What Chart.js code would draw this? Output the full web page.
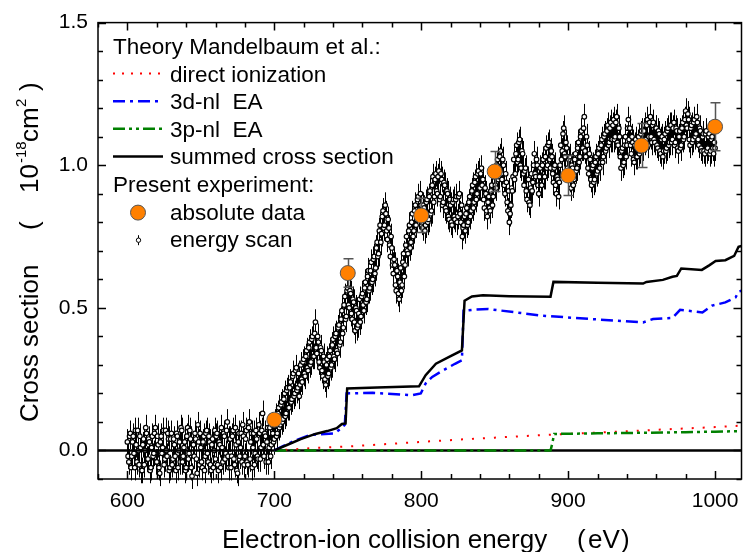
<!DOCTYPE html>
<html>
<head>
<meta charset="utf-8">
<script src="https://cdn.jsdelivr.net/npm/chart.js@4/dist/chart.umd.min.js"></script>
<style>
  html, body { margin: 0; padding: 0; background: #fff; }
  #chart { display: block; }
</style>
</head>
<body>
<canvas id="chart" width="750" height="552"></canvas>
<script>
// energy scan (eV) and its relative cross section (1e-18 cm^2), whole-eV steps
const scanEnergy = [
    600, 601, 602, 603, 604, 605, 606, 607, 608, 609,
    610, 611, 612, 613, 614, 615, 616, 617, 618, 619,
    620, 621, 622, 623, 624, 625, 626, 627, 628, 629,
    630, 631, 632, 633, 634, 635, 636, 637, 638, 639,
    640, 641, 642, 643, 644, 645, 646, 647, 648, 649,
    650, 651, 652, 653, 654, 655, 656, 657, 658, 659,
    660, 661, 662, 663, 664, 665, 666, 667, 668, 669,
    670, 671, 672, 673, 674, 675, 676, 677, 678, 679,
    680, 681, 682, 683, 684, 685, 686, 687, 688, 689,
    690, 691, 692, 693, 694, 695, 696, 697, 698, 699,
    700, 701, 702, 703, 704, 705, 706, 707, 708, 709,
    710, 711, 712, 713, 714, 715, 716, 717, 718, 719,
    720, 721, 722, 723, 724, 725, 726, 727, 728, 729,
    730, 731, 732, 733, 734, 735, 736, 737, 738, 739,
    740, 741, 742, 743, 744, 745, 746, 747, 748, 749,
    750, 751, 752, 753, 754, 755, 756, 757, 758, 759,
    760, 761, 762, 763, 764, 765, 766, 767, 768, 769,
    770, 771, 772, 773, 774, 775, 776, 777, 778, 779,
    780, 781, 782, 783, 784, 785, 786, 787, 788, 789,
    790, 791, 792, 793, 794, 795, 796, 797, 798, 799,
    800, 801, 802, 803, 804, 805, 806, 807, 808, 809,
    810, 811, 812, 813, 814, 815, 816, 817, 818, 819,
    820, 821, 822, 823, 824, 825, 826, 827, 828, 829,
    830, 831, 832, 833, 834, 835, 836, 837, 838, 839,
    840, 841, 842, 843, 844, 845, 846, 847, 848, 849,
    850, 851, 852, 853, 854, 855, 856, 857, 858, 859,
    860, 861, 862, 863, 864, 865, 866, 867, 868, 869,
    870, 871, 872, 873, 874, 875, 876, 877, 878, 879,
    880, 881, 882, 883, 884, 885, 886, 887, 888, 889,
    890, 891, 892, 893, 894, 895, 896, 897, 898, 899,
    900, 901, 902, 903, 904, 905, 906, 907, 908, 909,
    910, 911, 912, 913, 914, 915, 916, 917, 918, 919,
    920, 921, 922, 923, 924, 925, 926, 927, 928, 929,
    930, 931, 932, 933, 934, 935, 936, 937, 938, 939,
    940, 941, 942, 943, 944, 945, 946, 947, 948, 949,
    950, 951, 952, 953, 954, 955, 956, 957, 958, 959,
    960, 961, 962, 963, 964, 965, 966, 967, 968, 969,
    970, 971, 972, 973, 974, 975, 976, 977, 978, 979,
    980, 981, 982, 983, 984, 985, 986, 987, 988, 989,
    990, 991, 992, 993, 994, 995, 996, 997, 998, 999,
    1000
];
const scanValues = [
    0.03, -0.04, 0.06, -0.02, 0.05, -0.06, 0.02, 0.07, -0.05, 0.01,
    -0.07, 0.04, 0.00, 0.06, -0.03, 0.03, -0.06, 0.05, -0.01, 0.08,
    -0.04, 0.02, -0.08, 0.05, 0.01, -0.05, 0.07, -0.02, 0.04, -0.06,
    0.06, -0.03, 0.02, -0.07, 0.05, 0.00, -0.04, 0.07, -0.02, 0.03,
    -0.06, 0.08, -0.01, 0.04, -0.09, 0.02, 0.06, -0.03, 0.09, -0.05,
    0.01, -0.06, 0.05, -0.02, 0.07, -0.04, 0.03, -0.07, 0.04, 0.00,
    -0.03, 0.06, -0.07, 0.02, 0.08, -0.04, 0.05, -0.01, 0.10, -0.06,
    0.04, -0.02, 0.07, -0.05, 0.02, -0.08, 0.06, 0.01, -0.04, 0.05,
    -0.02, 0.07, -0.05, 0.10, 0.03, -0.06, 0.06, -0.01, 0.04, -0.03,
    0.06, 0.01, 0.13, -0.02, 0.05, 0.03, -0.04, 0.08, 0.02, 0.06,
    0.04, 0.12, 0.06, 0.15, 0.09, 0.17, 0.11, 0.20, 0.13, 0.22,
    0.15, 0.24, 0.18, 0.27, 0.20, 0.29, 0.22, 0.19, 0.30, 0.24,
    0.32, 0.26, 0.35, 0.28, 0.38, 0.31, 0.40, 0.33, 0.45, 0.34,
    0.38, 0.29, 0.35, 0.26, 0.31, 0.23, 0.32, 0.27, 0.35, 0.30,
    0.39, 0.32, 0.41, 0.34, 0.44, 0.38, 0.49, 0.43, 0.54, 0.47,
    0.57, 0.50, 0.55, 0.46, 0.52, 0.42, 0.49, 0.44, 0.53, 0.47,
    0.55, 0.49, 0.59, 0.53, 0.63, 0.57, 0.66, 0.60, 0.68, 0.64,
    0.73, 0.69, 0.79, 0.76, 0.84, 0.79, 0.83, 0.74, 0.78, 0.68,
    0.71, 0.62, 0.65, 0.56, 0.61, 0.53, 0.64, 0.58, 0.69, 0.65,
    0.75, 0.69, 0.79, 0.73, 0.83, 0.77, 0.86, 0.81, 0.89, 0.84,
    0.86, 0.78, 0.85, 0.79, 0.88, 0.81, 0.91, 0.84, 0.96, 0.89,
    0.97, 0.90, 0.98, 0.89, 0.95, 0.87, 0.93, 0.84, 0.90, 0.81,
    0.86, 0.79, 0.88, 0.81, 0.89, 0.82, 0.90, 0.80, 0.75, 0.79,
    0.77, 0.85, 0.80, 0.89, 0.84, 0.93, 0.87, 0.96, 0.90, 0.98,
    0.92, 0.99, 0.95, 0.85, 0.90, 0.82, 0.89, 0.84, 0.93, 0.89,
    0.98, 0.92, 1.02, 0.96, 1.05, 0.95, 1.00, 0.90, 0.94, 0.84,
    0.80, 0.86, 0.91, 1.02, 0.97, 1.07, 1.02, 1.09, 0.99, 1.04,
    0.93, 0.99, 0.88, 0.95, 0.86, 0.97, 0.94, 1.04, 0.96, 1.00,
    0.90, 0.99, 0.93, 1.02, 0.96, 1.06, 1.00, 1.08, 0.99, 1.03,
    0.94, 1.00, 0.90, 0.95, 0.94, 1.07, 1.05, 1.13, 1.03, 1.06,
    0.97, 1.03, 0.92, 0.99, 0.95, 1.04, 0.99, 1.08, 1.03, 1.12,
    1.06, 1.17, 1.03, 1.07, 0.97, 1.02, 0.93, 1.00, 0.95, 1.03,
    0.98, 1.06, 1.01, 1.09, 1.03, 1.11, 1.06, 1.14, 1.08, 1.15,
    1.09, 1.16, 1.10, 1.17, 1.07, 1.10, 0.99, 1.06, 1.01, 1.10,
    1.07, 1.16, 1.13, 1.04, 1.08, 1.01, 1.09, 1.03, 1.10, 1.05,
    1.12, 1.06, 1.14, 1.09, 1.16, 1.10, 1.17, 1.08, 1.15, 1.08,
    1.13, 1.06, 1.11, 1.04, 1.10, 1.05, 1.11, 1.06, 1.13, 1.08,
    1.14, 1.09, 1.15, 1.08, 1.12, 1.05, 1.12, 1.07, 1.15, 1.10,
    1.19, 1.13, 1.16, 1.07, 1.14, 1.09, 1.16, 1.11, 1.15, 1.07,
    1.12, 1.05, 1.11, 1.04, 1.12, 1.06, 1.11, 1.05, 1.10, 1.04,
    1.06
];

// the same scan, points lying between the whole-eV steps
const scanEnergyHalf = [
    600.5, 601.5, 602.5, 603.5, 604.5, 605.5, 606.5, 607.5, 608.5, 609.5,
    610.5, 611.5, 612.5, 613.5, 614.5, 615.5, 616.5, 617.5, 618.5, 619.5,
    620.5, 621.5, 622.5, 623.5, 624.5, 625.5, 626.5, 627.5, 628.5, 629.5,
    630.5, 631.5, 632.5, 633.5, 634.5, 635.5, 636.5, 637.5, 638.5, 639.5,
    640.5, 641.5, 642.5, 643.5, 644.5, 645.5, 646.5, 647.5, 648.5, 649.5,
    650.5, 651.5, 652.5, 653.5, 654.5, 655.5, 656.5, 657.5, 658.5, 659.5,
    660.5, 661.5, 662.5, 663.5, 664.5, 665.5, 666.5, 667.5, 668.5, 669.5,
    670.5, 671.5, 672.5, 673.5, 674.5, 675.5, 676.5, 677.5, 678.5, 679.5,
    680.5, 681.5, 682.5, 683.5, 684.5, 685.5, 686.5, 687.5, 688.5, 689.5,
    690.5, 691.5, 692.5, 693.5, 694.5, 695.5, 696.5, 697.5, 698.5, 699.5,
    700.5, 701.5, 702.5, 703.5, 704.5, 705.5, 706.5, 707.5, 708.5, 709.5,
    710.5, 711.5, 712.5, 713.5, 714.5, 715.5, 716.5, 717.5, 718.5, 719.5,
    720.5, 721.5, 722.5, 723.5, 724.5, 725.5, 726.5, 727.5, 728.5, 729.5,
    730.5, 731.5, 732.5, 733.5, 734.5, 735.5, 736.5, 737.5, 738.5, 739.5,
    740.5, 741.5, 742.5, 743.5, 744.5, 745.5, 746.5, 747.5, 748.5, 749.5,
    750.5, 751.5, 752.5, 753.5, 754.5, 755.5, 756.5, 757.5, 758.5, 759.5,
    760.5, 761.5, 762.5, 763.5, 764.5, 765.5, 766.5, 767.5, 768.5, 769.5,
    770.5, 771.5, 772.5, 773.5, 774.5, 775.5, 776.5, 777.5, 778.5, 779.5,
    780.5, 781.5, 782.5, 783.5, 784.5, 785.5, 786.5, 787.5, 788.5, 789.5,
    790.5, 791.5, 792.5, 793.5, 794.5, 795.5, 796.5, 797.5, 798.5, 799.5,
    800.5, 801.5, 802.5, 803.5, 804.5, 805.5, 806.5, 807.5, 808.5, 809.5,
    810.5, 811.5, 812.5, 813.5, 814.5, 815.5, 816.5, 817.5, 818.5, 819.5,
    820.5, 821.5, 822.5, 823.5, 824.5, 825.5, 826.5, 827.5, 828.5, 829.5,
    830.5, 831.5, 832.5, 833.5, 834.5, 835.5, 836.5, 837.5, 838.5, 839.5,
    840.5, 841.5, 842.5, 843.5, 844.5, 845.5, 846.5, 847.5, 848.5, 849.5,
    850.5, 851.5, 852.5, 853.5, 854.5, 855.5, 856.5, 857.5, 858.5, 859.5,
    860.5, 861.5, 862.5, 863.5, 864.5, 865.5, 866.5, 867.5, 868.5, 869.5,
    870.5, 871.5, 872.5, 873.5, 874.5, 875.5, 876.5, 877.5, 878.5, 879.5,
    880.5, 881.5, 882.5, 883.5, 884.5, 885.5, 886.5, 887.5, 888.5, 889.5,
    890.5, 891.5, 892.5, 893.5, 894.5, 895.5, 896.5, 897.5, 898.5, 899.5,
    900.5, 901.5, 902.5, 903.5, 904.5, 905.5, 906.5, 907.5, 908.5, 909.5,
    910.5, 911.5, 912.5, 913.5, 914.5, 915.5, 916.5, 917.5, 918.5, 919.5,
    920.5, 921.5, 922.5, 923.5, 924.5, 925.5, 926.5, 927.5, 928.5, 929.5,
    930.5, 931.5, 932.5, 933.5, 934.5, 935.5, 936.5, 937.5, 938.5, 939.5,
    940.5, 941.5, 942.5, 943.5, 944.5, 945.5, 946.5, 947.5, 948.5, 949.5,
    950.5, 951.5, 952.5, 953.5, 954.5, 955.5, 956.5, 957.5, 958.5, 959.5,
    960.5, 961.5, 962.5, 963.5, 964.5, 965.5, 966.5, 967.5, 968.5, 969.5,
    970.5, 971.5, 972.5, 973.5, 974.5, 975.5, 976.5, 977.5, 978.5, 979.5,
    980.5, 981.5, 982.5, 983.5, 984.5, 985.5, 986.5, 987.5, 988.5, 989.5,
    990.5, 991.5, 992.5, 993.5, 994.5, 995.5, 996.5, 997.5, 998.5, 999.5
];
const scanValuesHalf = [
    -0.02, 0.05, -0.06, 0.03, -0.01, 0.07, -0.04, 0.00, 0.05, -0.07,
    0.02, -0.05, 0.08, -0.03, 0.04, -0.07, 0.01, -0.02, 0.06, -0.04,
    0.05, -0.06, 0.03, -0.01, 0.07, -0.03, 0.00, 0.06, -0.07, 0.04,
    -0.05, 0.04, -0.02, 0.06, -0.06, 0.03, 0.08, -0.04, 0.01, -0.07,
    0.05, -0.03, 0.07, -0.06, 0.02, -0.02, 0.04, -0.08, 0.03, 0.06,
    -0.04, 0.03, -0.07, 0.06, -0.01, 0.05, -0.05, 0.02, -0.06, 0.07,
    0.05, -0.05, 0.03, -0.06, 0.01, 0.06, -0.03, 0.07, -0.02, 0.04,
    -0.06, 0.05, -0.03, 0.08, -0.07, 0.03, -0.02, 0.06, 0.09, -0.05,
    0.04, -0.04, 0.08, -0.03, 0.06, 0.01, -0.05, 0.07, -0.02, 0.09,
    -0.03, 0.07, 0.02, 0.06, -0.04, 0.08, 0.01, -0.02, 0.09, 0.03,
    0.10, 0.05, 0.13, 0.08, 0.16, 0.10, 0.18, 0.12, 0.21, 0.15,
    0.22, 0.17, 0.26, 0.19, 0.28, 0.21, 0.27, 0.23, 0.25, 0.31,
    0.27, 0.33, 0.29, 0.36, 0.30, 0.39, 0.33, 0.41, 0.36, 0.40,
    0.31, 0.36, 0.28, 0.33, 0.25, 0.30, 0.26, 0.33, 0.29, 0.37,
    0.33, 0.40, 0.35, 0.43, 0.37, 0.46, 0.41, 0.51, 0.46, 0.56,
    0.51, 0.56, 0.48, 0.53, 0.45, 0.50, 0.43, 0.48, 0.45, 0.54,
    0.51, 0.57, 0.52, 0.61, 0.56, 0.63, 0.59, 0.67, 0.62, 0.71,
    0.68, 0.77, 0.73, 0.82, 0.78, 0.86, 0.77, 0.81, 0.72, 0.75,
    0.65, 0.67, 0.58, 0.63, 0.55, 0.59, 0.56, 0.66, 0.61, 0.72,
    0.70, 0.77, 0.71, 0.80, 0.75, 0.84, 0.79, 0.88, 0.82, 0.90,
    0.80, 0.86, 0.77, 0.87, 0.80, 0.89, 0.83, 0.93, 0.87, 0.95,
    0.91, 0.96, 0.88, 0.97, 0.86, 0.94, 0.85, 0.91, 0.82, 0.88,
    0.80, 0.87, 0.82, 0.88, 0.80, 0.89, 0.83, 0.86, 0.78, 0.82,
    0.83, 0.79, 0.87, 0.82, 0.91, 0.85, 0.94, 0.88, 0.97, 0.92,
    0.97, 0.93, 0.88, 0.92, 0.84, 0.87, 0.85, 0.91, 0.86, 0.96,
    0.93, 1.00, 0.95, 1.03, 0.97, 1.02, 0.93, 0.97, 0.87, 0.91,
    0.83, 0.92, 0.96, 0.95, 1.04, 1.01, 1.08, 1.00, 1.05, 0.97,
    0.98, 0.91, 0.95, 0.87, 0.92, 0.91, 1.00, 0.97, 1.02, 0.93,
    0.96, 0.93, 1.00, 0.96, 1.03, 0.99, 1.07, 1.02, 1.05, 0.97,
    0.99, 0.93, 0.96, 0.89, 1.00, 1.02, 1.11, 1.04, 1.08, 0.99,
    1.02, 0.95, 1.00, 0.93, 1.02, 0.98, 1.06, 1.01, 1.10, 1.06,
    1.13, 1.05, 1.10, 0.99, 1.04, 0.95, 0.99, 0.94, 1.01, 0.97,
    1.04, 0.99, 1.07, 1.01, 1.10, 1.05, 1.12, 1.07, 1.13, 1.09,
    1.14, 1.09, 1.15, 1.08, 1.13, 1.03, 1.05, 1.00, 1.07, 1.03,
    1.13, 1.09, 1.07, 1.10, 1.02, 1.07, 1.03, 1.08, 1.04, 1.11,
    1.07, 1.12, 1.08, 1.14, 1.07, 1.15, 1.10, 1.14, 1.09, 1.13,
    1.07, 1.12, 1.05, 1.09, 1.03, 1.09, 1.05, 1.12, 1.07, 1.14,
    1.08, 1.13, 1.07, 1.13, 1.06, 1.10, 1.06, 1.13, 1.09, 1.16,
    1.14, 1.18, 1.09, 1.13, 1.08, 1.15, 1.10, 1.17, 1.09, 1.13,
    1.06, 1.10, 1.05, 1.11, 1.05, 1.10, 1.04, 1.09, 1.06, 1.08
];
const scanError = 0.045;

// absolute measurements
const absoluteEnergy = [700, 750, 800, 850, 900, 950, 1000];
const absoluteValues = [0.108, 0.622, 0.824, 0.978, 0.964, 1.069, 1.135];
const absoluteError = [0.02, 0.05, 0.06, 0.07, 0.07, 0.077, 0.084];

// theory (Mandelbaum et al.)
const directEnergy = [700, 710, 725, 750, 775, 800, 825, 850, 875, 900, 925, 950, 975, 1000, 1018];
const directValues = [0, 0.003, 0.008, 0.014, 0.022, 0.030, 0.038, 0.045, 0.052, 0.058, 0.064, 0.070, 0.076, 0.082, 0.087];

const ea3dEnergy = [700, 712, 724.5, 741, 745.8, 748, 749.2, 767, 794, 799.7, 803, 807.5, 813, 823, 827.7, 828.8,
    834.5, 845.6, 881.5, 915, 951, 957.8, 971, 976.2, 991.4, 998, 1007, 1014, 1016, 1018];
const ea3dValues = [0, 0.03, 0.055, 0.06, 0.078, 0.09, 0.2, 0.202, 0.194, 0.2, 0.235, 0.258, 0.275, 0.304, 0.316, 0.49,
    0.493, 0.496, 0.473, 0.461, 0.449, 0.461, 0.465, 0.493, 0.484, 0.508, 0.519, 0.537, 0.557, 0.56];

const ea3pEnergy = [700, 888, 889, 890.5, 920, 950, 980, 1000, 1018];
const ea3pValues = [0, 0, 0.02, 0.058, 0.06, 0.062, 0.064, 0.066, 0.068];

const summedEnergy = [700, 709, 718, 728, 736, 742.5, 746, 748.5, 749.6, 770, 798.5, 803, 810, 819, 827.7, 829.5,
    834.5, 842, 860, 888, 890, 920, 951, 953.3, 964.5, 971, 974, 977, 991, 996, 1000.4, 1007, 1013, 1016, 1018];
const summedValues = [0, 0.02, 0.04, 0.058, 0.068, 0.078, 0.093, 0.095, 0.217, 0.221, 0.225, 0.264, 0.304, 0.328, 0.351, 0.525,
    0.540, 0.544, 0.541, 0.539, 0.591, 0.588, 0.585, 0.591, 0.598, 0.609, 0.612, 0.638, 0.633, 0.649, 0.664, 0.667, 0.682, 0.714, 0.717];

const zeroLineEnergy = [580, 1018];
const zeroLineValues = [0, 0];

const xMin = 580, xMax = 1018;
const yMin = -0.1, yMax = 1.5;

const FONT = 'Arial, "Liberation Sans", sans-serif';
const ORANGE = '#ff8000';

function points(xs, ys) {
    return xs.map((x, i) => ({ x: x, y: ys[i] }));
}

// both passes of the scan, sorted by energy
function scanPoints() {
    return points(scanEnergy, scanValues)
        .concat(points(scanEnergyHalf, scanValuesHalf))
        .sort((a, b) => a.x - b.x);
}

function theoryLine(xs, ys, color, dash, width, order) {
    return {
        data: points(xs, ys),
        showLine: true,
        borderColor: color,
        borderWidth: width,
        borderDash: dash,
        pointRadius: 0,
        fill: false,
        tension: 0,
        order: order
    };
}

// error bars, drawn right before the dataset's own markers
const errorBars = {
    id: 'errorBars',
    beforeDatasetDraw(chart, args) {
        const ds = chart.data.datasets[args.index];
        if (ds.errors === undefined) return;
        const ctx = chart.ctx;
        const xs = chart.scales.x, ys = chart.scales.y;
        ctx.save();
        ctx.strokeStyle = ds.errorColor;
        ctx.lineWidth = ds.errorWidth;
        ds.data.forEach((p, i) => {
            const err = Array.isArray(ds.errors) ? ds.errors[i] : ds.errors;
            const px = Math.round(xs.getPixelForValue(p.x)) + 0.5;
            const top = ys.getPixelForValue(p.y + err);
            const bot = ys.getPixelForValue(p.y - err);
            ctx.beginPath();
            ctx.moveTo(px, top);
            ctx.lineTo(px, bot);
            if (ds.errorCap) {
                ctx.moveTo(px - ds.errorCap, top);
                ctx.lineTo(px + ds.errorCap, top);
                ctx.moveTo(px - ds.errorCap, bot);
                ctx.lineTo(px + ds.errorCap, bot);
            }
            ctx.stroke();
        });
        ctx.restore();
    }
};

// box frame with inward ticks on all four sides
const frame = {
    id: 'frame',
    afterDatasetsDraw(chart) {
        const ctx = chart.ctx;
        const a = chart.chartArea;
        const xs = chart.scales.x, ys = chart.scales.y;
        ctx.save();
        ctx.strokeStyle = '#000';
        ctx.lineWidth = 1.5;
        ctx.strokeRect(a.left, a.top, a.right - a.left, a.bottom - a.top);
        ctx.beginPath();
        for (let v = 580; v <= xMax; v += 20) {
            const len = v % 100 === 0 ? 8 : 5;
            const px = Math.round(xs.getPixelForValue(v)) + 0.5;
            ctx.moveTo(px, a.bottom);
            ctx.lineTo(px, a.bottom - len);
            ctx.moveTo(px, a.top);
            ctx.lineTo(px, a.top + len);
        }
        for (let i = -1; i <= 15; i++) {
            const len = i % 5 === 0 ? 8 : 5;
            const py = Math.round(ys.getPixelForValue(i / 10)) + 0.5;
            ctx.moveTo(a.left, py);
            ctx.lineTo(a.left + len, py);
            ctx.moveTo(a.right, py);
            ctx.lineTo(a.right - len, py);
        }
        ctx.stroke();
        ctx.restore();
    }
};

// text pieces laid along one line, superscripts raised
function drawPieces(ctx, pieces, big, small) {
    pieces.forEach(([text, pos, sup]) => {
        ctx.font = (sup ? small : big) + 'px ' + FONT;
        ctx.fillText(text, pos, sup ? -12 : 0);
    });
}

const axisTitles = {
    id: 'axisTitles',
    afterDraw(chart) {
        const ctx = chart.ctx;
        ctx.save();
        ctx.fillStyle = '#000';
        ctx.textBaseline = 'alphabetic';
        ctx.textAlign = 'left';
        // x title
        ctx.save();
        ctx.translate(0, 548);
        drawPieces(ctx, [
            ['Electron-ion collision energy', 222],
            ['(', 577],
            ['eV', 588],
            [')', 621]
        ], 26, 15);
        ctx.restore();
        // y title, reading upwards
        ctx.save();
        ctx.translate(38, 422);
        ctx.rotate(-Math.PI / 2);
        drawPieces(ctx, [
            ['Cross section', 0],
            ['(', 192],
            ['10', 229],
            ['-18', 259, true],
            ['cm', 280],
            ['2', 315, true],
            [')', 331]
        ], 26, 15);
        ctx.restore();
        ctx.restore();
    }
};

// legend inside the plot area
const legendBox = {
    id: 'legendBox',
    afterDraw(chart) {
        const ctx = chart.ctx;
        const rows = [54, 81.6, 109.2, 136.8, 164.4, 192, 219.6, 247.2];
        const x0 = 113, x1 = 163, tx = 170;
        ctx.save();
        ctx.fillStyle = '#000';
        ctx.font = '22.5px ' + FONT;
        ctx.textBaseline = 'alphabetic';
        ctx.fillText('Theory Mandelbaum et al.:', x0, rows[0]);
        ctx.fillText('direct ionization', tx, rows[1]);
        ctx.fillText('3d-nl  EA', tx, rows[2]);
        ctx.fillText('3p-nl  EA', tx, rows[3]);
        ctx.fillText('summed cross section', tx, rows[4]);
        ctx.fillText('Present experiment:', x0, rows[5]);
        ctx.fillText('absolute data', tx, rows[6]);
        ctx.fillText('energy scan', tx, rows[7]);

        const samples = [
            [rows[1], '#ff0000', [2, 7], 2],
            [rows[2], '#0000ff', [12, 5, 3, 5], 2.5],
            [rows[3], '#008000', [12, 4, 3, 4, 3, 4], 2.5],
            [rows[4], '#000000', [], 2.5]
        ];
        samples.forEach(([ry, color, dash, w]) => {
            ctx.beginPath();
            ctx.strokeStyle = color;
            ctx.lineWidth = w;
            ctx.setLineDash(dash);
            ctx.moveTo(x0, ry - 8);
            ctx.lineTo(x1, ry - 8);
            ctx.stroke();
        });
        ctx.setLineDash([]);

        ctx.beginPath();
        ctx.arc(138, rows[6] - 7, 7.5, 0, Math.PI * 2);
        ctx.fillStyle = ORANGE;
        ctx.fill();
        ctx.strokeStyle = '#555';
        ctx.lineWidth = 1;
        ctx.stroke();

        ctx.beginPath();
        ctx.strokeStyle = '#000';
        ctx.moveTo(138.5, rows[7] - 12);
        ctx.lineTo(138.5, rows[7] - 2);
        ctx.stroke();
        ctx.beginPath();
        ctx.arc(138.5, rows[7] - 7, 2.2, 0, Math.PI * 2);
        ctx.fillStyle = '#fff';
        ctx.fill();
        ctx.stroke();
        ctx.restore();
    }
};

Chart.defaults.font.family = FONT;
Chart.defaults.color = '#000';

// lower order is painted later, i.e. on top
new Chart(document.getElementById('chart'), {
    type: 'scatter',
    data: {
        datasets: [
            {
                data: scanPoints(),
                pointRadius: 2.3,
                pointBorderWidth: 1.2,
                pointBackgroundColor: '#fff',
                pointBorderColor: '#000',
                errors: scanError,
                errorColor: '#000',
                errorWidth: 1,
                order: 7
            },
            theoryLine(zeroLineEnergy, zeroLineValues, '#000', [], 2.5, 6),
            theoryLine(directEnergy, directValues, '#ff0000', [2, 9], 2, 5),
            theoryLine(ea3pEnergy, ea3pValues, '#008000', [12, 4, 3, 4, 3, 4], 2.5, 4),
            theoryLine(ea3dEnergy, ea3dValues, '#0000ff', [12, 5, 3, 5], 2.5, 3),
            theoryLine(summedEnergy, summedValues, '#000', [], 2.5, 2),
            {
                data: points(absoluteEnergy, absoluteValues),
                pointRadius: 7.5,
                pointBorderWidth: 1,
                pointBackgroundColor: ORANGE,
                pointBorderColor: '#555',
                errors: absoluteError,
                errorColor: '#555',
                errorWidth: 1.5,
                errorCap: 5,
                order: 1
            }
        ]
    },
    options: {
        responsive: false,
        animation: false,
        devicePixelRatio: 1,
        layout: { padding: { top: 20, right: 1, left: 0, bottom: 0 } },
        plugins: {
            legend: { display: false },
            tooltip: { enabled: false }
        },
        scales: {
            x: {
                type: 'linear',
                min: xMin,
                max: xMax,
                grid: { display: false, drawTicks: false },
                border: { display: false },
                ticks: {
                    stepSize: 100,
                    includeBounds: false,
                    padding: 10,
                    maxRotation: 0,
                    font: { size: 21 },
                    callback: (v) => String(v)
                },
                afterFit(scale) { scale.height = 73; }
            },
            y: {
                type: 'linear',
                min: yMin,
                max: yMax,
                grid: { display: false, drawTicks: false },
                border: { display: false },
                ticks: {
                    stepSize: 0.5,
                    includeBounds: false,
                    padding: 10,
                    font: { size: 21 },
                    callback: (v) => v.toFixed(1)
                },
                afterFit(scale) { scale.width = 98; }
            }
        }
    },
    plugins: [errorBars, frame, axisTitles, legendBox]
});
</script>
</body>
</html>
